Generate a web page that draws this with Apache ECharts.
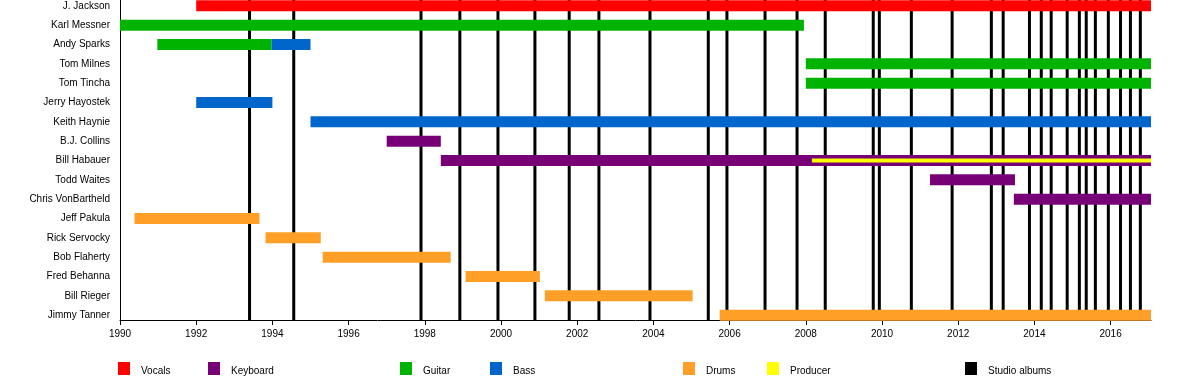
<!DOCTYPE html>
<html>
<head>
<meta charset="utf-8">
<script src="https://cdn.jsdelivr.net/npm/echarts@6/dist/echarts.min.js"></script>
<style>html,body{margin:0;padding:0;background:#fff}#c{width:1200px;height:380px}</style>
</head>
<body>
<div id="c"></div>
<script>
const END = 2017.06;
const members = ['J. Jackson','Karl Messner','Andy Sparks','Tom Milnes','Tom Tincha','Jerry Hayostek','Keith Haynie','B.J. Collins','Bill Habauer','Todd Waites','Chris VonBartheld','Jeff Pakula','Rick Servocky','Bob Flaherty','Fred Behanna','Bill Rieger','Jimmy Tanner'];
// [row, start, end]
const vocals = [[0, 1992.0, END]];
const keyboard = [[7, 1997.0, 1998.42], [8, 1998.42, END], [9, 2011.26, 2013.49], [10, 2013.46, END]];
const guitar = [[1, 1990.0, 2007.95], [2, 1990.98, 1993.98], [3, 2008.0, END], [4, 2008.0, END]];
const bass = [[2, 1993.98, 1995.0], [5, 1992.0, 1994.0], [6, 1995.0, END]];
const drums = [[11, 1990.38, 1993.66], [12, 1993.82, 1995.27], [13, 1995.32, 1998.68], [14, 1999.07, 2001.02], [15, 2001.15, 2005.03], [16, 2005.74, END]];
const producer = [[8, 2008.16, END]];
const studioAlbums = [1993.40, 1994.56, 1997.90, 1998.92, 1999.92, 2000.89, 2001.79, 2002.57, 2003.91, 2005.44, 2005.93, 2006.93, 2007.77, 2008.51, 2009.77, 2009.93, 2010.77, 2011.84, 2012.87, 2013.18, 2013.87, 2014.18, 2014.44, 2014.86, 2015.18, 2015.36, 2015.60, 2015.94, 2016.26, 2016.52, 2016.78];
const yearTicks = [1990, 1992, 1994, 1996, 1998, 2000, 2002, 2004, 2006, 2008, 2010, 2012, 2014, 2016];
const rowTicks = members.map((_, i) => i);

const colors = {Vocals:'#FF0000', Keyboard:'#770077', Guitar:'#00B300', Bass:'#0066CC', Drums:'#FF9F27', Producer:'#FFFF00', 'Studio albums':'#000000'};
const YMIN = -0.3, YMAX = 16.25;
const FONT = 'Liberation Sans, Arial, sans-serif';

function barSeries(name, data, h, z) {
  return {
    type: 'custom', name: name, z: z,
    itemStyle: {color: colors[name]},
    encode: {x: [1, 2], y: 0},
    data: data,
    renderItem: function (params, api) {
      const row = api.value(0);
      const p1 = api.coord([api.value(1), row]);
      const p2 = api.coord([api.value(2), row]);
      return {type: 'rect', shape: {x: p1[0], y: p1[1] - h / 2, width: p2[0] - p1[0], height: h}, style: {fill: api.visual('color')}};
    }
  };
}

const legendPos = [['Vocals',118],['Keyboard',208],['Guitar',400],['Bass',490],['Drums',683],['Producer',767],['Studio albums',965]];

const chart = echarts.init(document.getElementById('c'), null, {renderer: 'canvas'});
chart.setOption({
  animation: false,
  backgroundColor: '#fff',
  textStyle: {fontFamily: FONT},
  grid: {left: 120, right: 49, top: 0, bottom: 60},
  legend: legendPos.map(function (l) {
    return {data: [l[0]], left: l[1], top: 362, padding: 0, itemWidth: 12, itemHeight: 13, icon: 'rect', selectedMode: false,
      formatter: '{t|{name}}',
      textStyle: {fontFamily: FONT, fontSize: 10, color: '#000',
        rich: {t: {fontFamily: FONT, fontSize: 10, color: '#000', padding: [5, 0, 0, 6]}}}};
  }),
  xAxis: {
    type: 'value', min: 1990, max: END, position: 'bottom',
    splitLine: {show: false},
    axisLine: {show: true, onZero: false, lineStyle: {color: '#000', width: 1}},
    axisTick: {show: true, length: 5, lineStyle: {color: '#000'}, customValues: yearTicks},
    axisLabel: {customValues: yearTicks, color: '#000', fontSize: 10, fontFamily: FONT, margin: 9, formatter: function (v) { return String(v); }}
  },
  yAxis: {
    type: 'value', inverse: true, min: YMIN, max: YMAX,
    splitLine: {show: false},
    axisLine: {show: true, onZero: false, lineStyle: {color: '#000', width: 1}},
    axisTick: {show: false},
    axisLabel: {customValues: rowTicks, color: '#000', fontSize: 10, fontFamily: FONT, margin: 10, formatter: function (v) { return members[Math.round(v)] || ''; }}
  },
  series: [
    {
      type: 'custom', name: 'Studio albums', z: 1,
      itemStyle: {color: colors['Studio albums']},
      encode: {x: 0},
      data: studioAlbums.map(function (v) { return [v]; }),
      renderItem: function (params, api) {
        const a = api.coord([api.value(0), YMIN]);
        const b = api.coord([api.value(0), YMAX]);
        return {type: 'line', shape: {x1: a[0], y1: a[1], x2: b[0], y2: b[1]}, style: {stroke: '#000', lineWidth: 3}};
      }
    },
    barSeries('Vocals', vocals, 11, 2),
    barSeries('Keyboard', keyboard, 11, 2),
    barSeries('Guitar', guitar, 11, 2),
    barSeries('Bass', bass, 11, 2),
    barSeries('Drums', drums, 11, 2),
    barSeries('Producer', producer, 4, 3)
  ]
});
</script>
</body>
</html>
